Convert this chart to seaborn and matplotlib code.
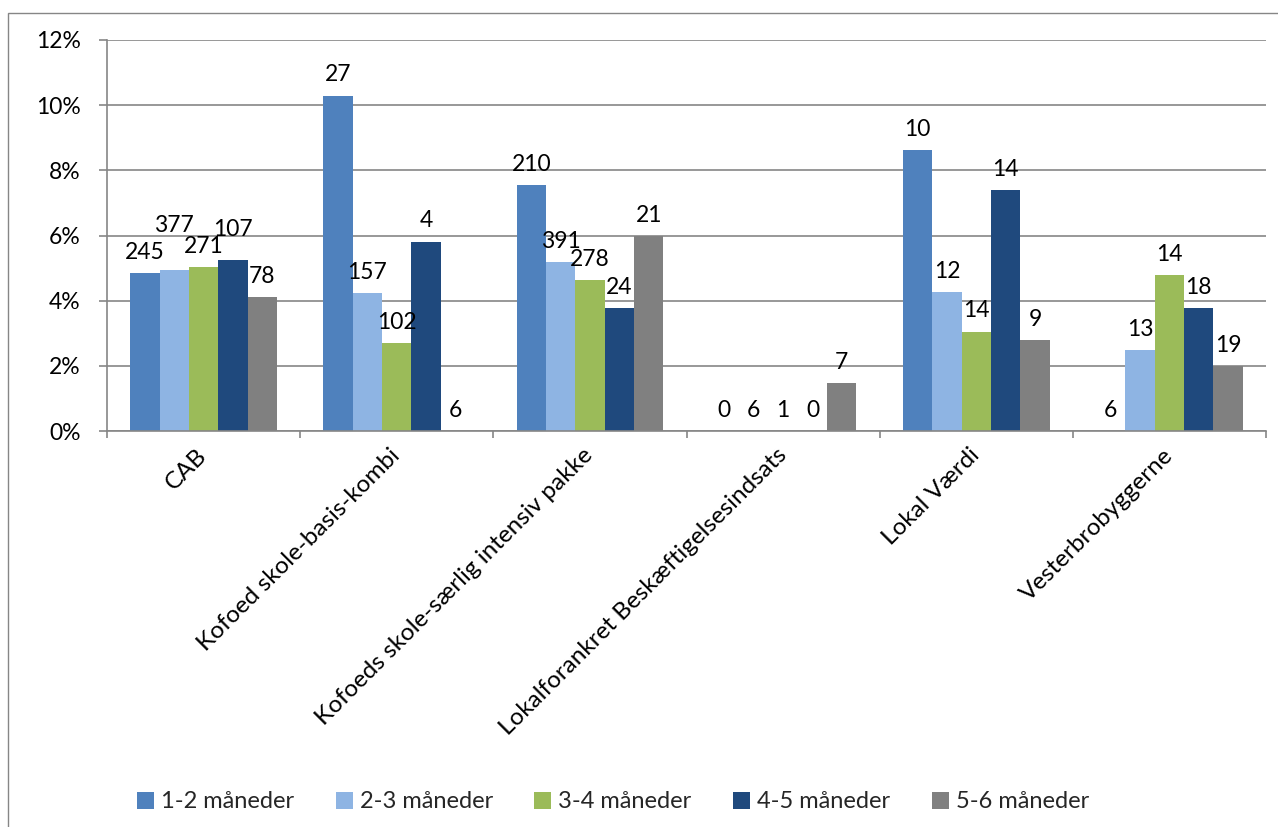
import matplotlib
matplotlib.use("Agg")
import matplotlib.pyplot as plt
import seaborn as sns
import pandas as pd
import numpy as np
from matplotlib.patches import Rectangle
from matplotlib.ticker import FuncFormatter, FixedLocator

# ---------------- data ----------------
categories = [
    "CAB",
    "Kofoed skole-basis-kombi",
    "Kofoeds skole-særlig intensiv pakke",
    "Lokalforankret Beskæftigelsesindsats",
    "Lokal Værdi",
    "Vesterbrobyggerne",
]
periods = ["1-2 måneder", "2-3 måneder", "3-4 måneder", "4-5 måneder", "5-6 måneder"]

# share (%) per period
pct_1_2 = [4.85, 10.29, 7.55, 0.0, 8.62, 0.0]
pct_2_3 = [4.94, 4.23, 5.18, 0.0, 4.26, 2.48]
pct_3_4 = [5.03, 2.70, 4.63, 0.0, 3.05, 4.78]
pct_4_5 = [5.24, 5.81, 3.77, 0.0, 7.39, 3.77]
pct_5_6 = [4.11, 0.0, 5.98, 1.47, 2.79, 1.99]

# counts shown as data labels
n_1_2 = [245, 27, 210, 0, 10, 6]
n_2_3 = [377, 157, 391, 6, 12, 13]
n_3_4 = [271, 102, 278, 1, 14, 14]
n_4_5 = [107, 4, 24, 0, 14, 18]
n_5_6 = [78, 6, 21, 7, 9, 19]

yticks = [0, 2, 4, 6, 8, 10, 12]

colors = ["#4F81BD", "#8EB4E3", "#9BBB59", "#1F497D", "#808080"]

pct_series = [pct_1_2, pct_2_3, pct_3_4, pct_4_5, pct_5_6]
n_series = [n_1_2, n_2_3, n_3_4, n_4_5, n_5_6]

rows = []
for p, vals in zip(periods, pct_series):
    for c, v in zip(categories, vals):
        rows.append({"Kategori": c, "Periode": p, "Andel": v / 100.0})
df = pd.DataFrame(rows)

# label placement style: extra lift (points) where the original staggered labels
label_lift = {("CAB", "2-3 måneder"): 17, ("CAB", "4-5 måneder"): 7}

# ---------------- style ----------------
sns.set_theme(style="white")
plt.rcParams["font.family"] = ["Lato", "DejaVu Sans"]
FS = 16.5
GRID = "#868686"

W, H = 1278, 827
fig = plt.figure(figsize=(W / 100, H / 100), dpi=100)
ax = fig.add_axes([107 / W, 1 - 431 / H, (1266 - 107) / W, (431 - 40) / H])

sns.barplot(
    data=df, x="Kategori", y="Andel", hue="Periode",
    order=categories, hue_order=periods, palette=colors,
    width=0.76, saturation=1, linewidth=0, errorbar=None, ax=ax,
)

ax.set_xlim(-0.5, len(categories) - 0.5)
ax.set_ylim(0, 0.12)
ax.set_yticks([t / 100 for t in yticks])
ax.yaxis.set_major_formatter(FuncFormatter(lambda v, _: f"{v * 100:.0f}%"))
ax.yaxis.grid(True, color=GRID, linewidth=1.2)
ax.xaxis.grid(False)
ax.set_axisbelow(True)
ax.set_xlabel("")
ax.set_ylabel("")

for s in ["top", "right"]:
    ax.spines[s].set_visible(False)
for s in ["left", "bottom"]:
    ax.spines[s].set_color(GRID)
    ax.spines[s].set_linewidth(1.2)

ax.tick_params(axis="y", which="major", left=True, length=6, width=1.2,
               color=GRID, pad=13, labelsize=FS, labelcolor="black")
ax.tick_params(axis="x", which="major", bottom=True, length=0, pad=15,
               labelsize=17.5, labelcolor="black")
ax.xaxis.set_minor_locator(FixedLocator(np.arange(-0.5, len(categories), 1.0)))
ax.tick_params(axis="x", which="minor", bottom=True, length=5, width=1.2, color=GRID)
for lab in ax.get_xticklabels():
    lab.set_rotation(45)
    lab.set_ha("right")
    lab.set_va("center")
    lab.set_rotation_mode("anchor")

for cont, counts, per in zip(ax.containers, n_series, periods):
    texts = ax.bar_label(cont, labels=[str(c) for c in counts], padding=7.5,
                         fontsize=FS, color="black")
    for t, cat in zip(texts, categories):
        lift = label_lift.get((cat, per), 0)
        if lift:
            x0, y0 = t.xyann
            t.xyann = (x0, y0 + lift)

handles, labels = ax.get_legend_handles_labels()
if ax.get_legend() is not None:
    ax.get_legend().remove()
fig.legend(handles, labels, loc="center", bbox_to_anchor=(613 / W, 1 - 802 / H),
           ncol=5, frameon=False, fontsize=17, handlelength=0.72, handleheight=0.72,
           handletextpad=0.3, columnspacing=1.75)

fig.add_artist(Rectangle((8 / W, -0.05), 1.1, (1 - 13 / H) + 0.05,
                         transform=fig.transFigure, fill=False,
                         edgecolor=GRID, linewidth=1.0))

fig.savefig("out.png", dpi=100)
